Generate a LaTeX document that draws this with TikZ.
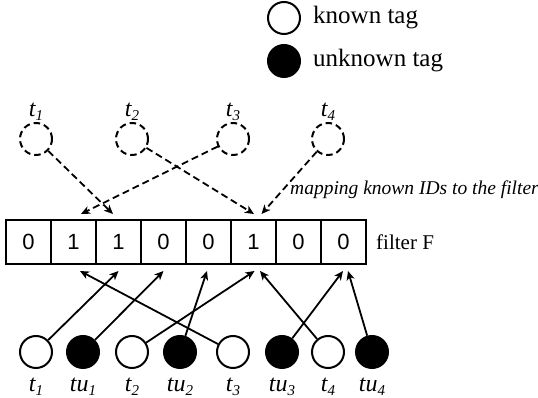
\documentclass[tikz,border=0pt]{standalone}
\usepackage{fontspec}
\setmainfont{Liberation Serif}
\newfontfamily\digitfont{Liberation Sans}
\usetikzlibrary{arrows.meta,positioning}

\tikzset{
  cell/.style={draw, line width=2pt, minimum width=45pt, minimum height=44pt, inner sep=0pt,
    font=\digitfont\fontsize{22}{22}\selectfont},
  known/.style={draw, circle, line width=2pt, minimum size=32pt, inner sep=0pt},
  unknown/.style={known, fill=black},
  ghost/.style={known, dash pattern=on 6.5pt off 4pt},
  tagname/.style={font=\fontsize{24}{24}\selectfont\itshape, inner sep=0pt, anchor=base},
  plain/.style={font=\fontsize{21}{21}\selectfont, inner sep=0pt},
  mapdash/.style={line width=1.8pt, dash pattern=on 7pt off 4pt, -{Stealth[length=9pt,width=8pt,inset=2.5pt]}},
  maparrow/.style={line width=1.8pt, -{Stealth[length=9pt,width=8pt,inset=2.5pt]}}
}
\newcommand{\tagsub}[2]{#1\raisebox{-0.35ex}{\fontsize{15}{15}\selectfont #2}}

\begin{document}
\begin{tikzpicture}[x=1pt,y=1pt]
\useasboundingbox (0,0) rectangle (538,398);

% legend
\node[known] (kn) at (284,380) {};
\node[plain, font=\fontsize{25}{25}\selectfont, right=12pt of kn] (kntext) {known tag};
\node[unknown] (un) at (284,337) {};
\node[plain, font=\fontsize{25}{25}\selectfont, right=12pt of un] (untext) {unknown tag};

% filter
\foreach \v [count=\i] in {0,1,1,0,0,1,0,0}
  \node[cell] (c\i) at (-16.5+45*\i,156) {\v};
\node[plain, right=9pt of c8] (fname) {filter F};

% known IDs (top)
\foreach \x [count=\i] in {36,132,233,328} {
  \node[ghost] (g\i) at (\x,259) {};
  \node[tagname] (lg\i) at ([yshift=5pt]g\i.north) {\tagsub{t}{\i}};
}
\foreach \g/\c/\dx in {1/3/-5.5,3/2/7.5,2/6/0.5,4/6/8}
  \draw[mapdash] (g\g) -- ([xshift=\dx pt,yshift=5pt]c\c.north);
\node[font=\fontsize{19.5}{19.5}\selectfont\itshape, inner sep=0pt, anchor=west] (maptext) at (290,208)
  {mapping known IDs to the filter};

% tags in the field (bottom)
\foreach \x/\kind/\nm/\s [count=\i] in {36/known/t/1,83/unknown/tu/1,132/known/t/2,180/unknown/tu/2,
    233/known/t/3,282/unknown/tu/3,328/known/t/4,372/unknown/tu/4} {
  \node[\kind] (b\i) at (\x,46) {};
  \node[tagname] (lb\i) at ([yshift=-23pt]b\i.south) {\tagsub{\nm}{\s}};
}
\foreach \b/\c/\dx in {1/3/0,2/4/0,3/6/1,4/5/-1.5,5/2/6.5,6/8/-0.5,7/6/6.5,8/8/4.5}
  \draw[maparrow] (b\b) -- ([xshift=\dx pt,yshift=-6pt]c\c.south);
\end{tikzpicture}
\end{document}
